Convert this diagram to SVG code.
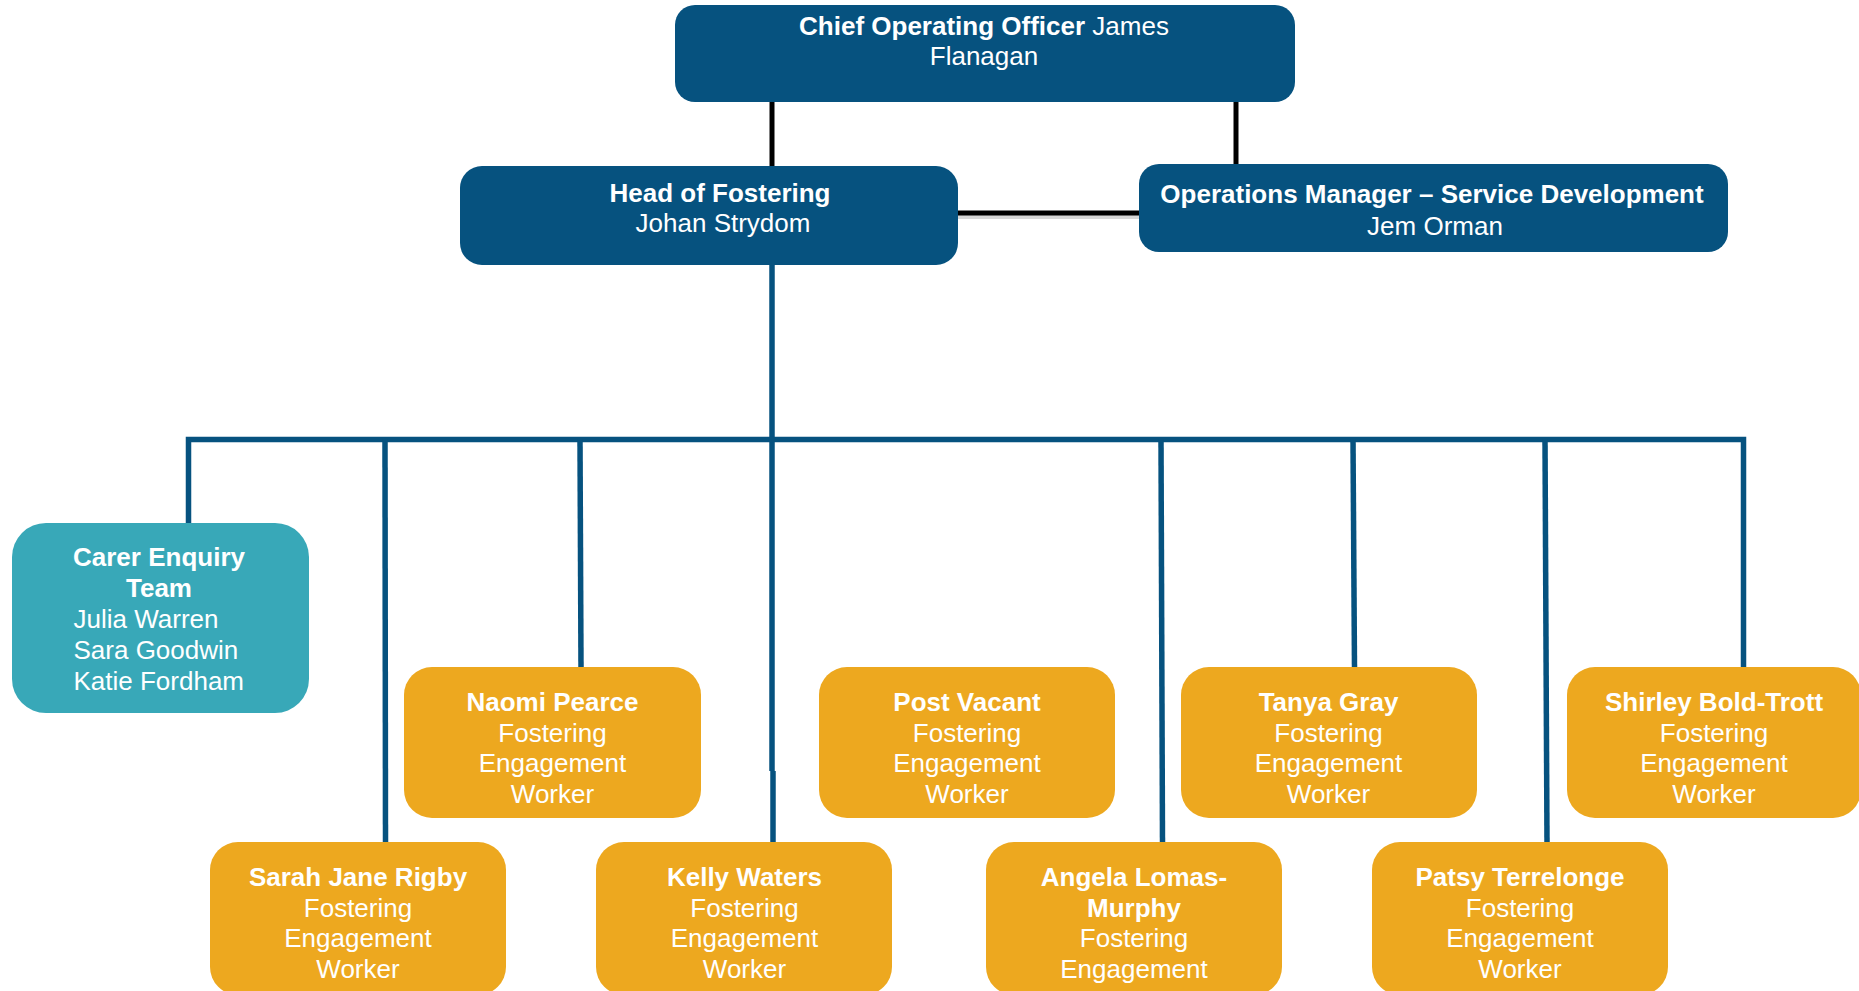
<svg xmlns="http://www.w3.org/2000/svg" width="1859" height="991" viewBox="0 0 1859 991">
<style>
text{font-family:"Liberation Sans",Arial,sans-serif;font-size:26px;fill:#ffffff;text-anchor:middle}
.b{font-weight:bold}
.navy{fill:#06527F}
.teal{fill:#38A8B8}
.orange{fill:#EDA81F}
.blk{stroke:#000000;stroke-width:5;fill:none}
.shadow{stroke:#bdbdbd;stroke-width:4;fill:none;opacity:0.6}
.blue{stroke:#06527F;stroke-width:5.5;fill:none}
</style>
<rect width="1859" height="991" fill="#ffffff"/>
<g id="connectors">
  <line class="shadow" x1="958" y1="217" x2="1139" y2="217"/>
  <line class="blk" x1="772" y1="96" x2="772" y2="168"/>
  <line class="blk" x1="1236" y1="100" x2="1236" y2="166"/>
  <line class="blk" x1="956" y1="213" x2="1141" y2="213"/>
  <line class="blue" x1="772" y1="263" x2="772" y2="771"/>
  <line class="blue" x1="773" y1="771" x2="773" y2="844"/>
  <polyline class="blue" points="188.5,525 188.5,439.5 1743.5,439.5 1743.5,669"/>
  <line class="blue" x1="385" y1="439" x2="385.5" y2="844"/>
  <line class="blue" x1="580" y1="439" x2="581" y2="669"/>
  <line class="blue" x1="1161" y1="439" x2="1162.5" y2="844"/>
  <line class="blue" x1="1353" y1="439" x2="1354.5" y2="669"/>
  <line class="blue" x1="1545" y1="439" x2="1547" y2="844"/>
</g>
<g id="coo">
  <rect class="navy" x="675" y="5" width="620" height="97" rx="20"/>
  <text x="984" y="35"><tspan class="b">Chief Operating Officer</tspan> James</text>
  <text x="984" y="65">Flanagan</text>
</g>
<g id="head-of-fostering">
  <rect class="navy" x="460" y="166" width="498" height="99" rx="22"/>
  <text class="b" x="720" y="202">Head of Fostering</text>
  <text x="723" y="232">Johan Strydom</text>
</g>
<g id="ops-manager">
  <rect class="navy" x="1139" y="164" width="589" height="88" rx="20"/>
  <text class="b" x="1432" y="203">Operations Manager – Service Development</text>
  <text x="1435" y="235">Jem Orman</text>
</g>
<g id="carer-enquiry">
  <rect class="teal" x="12" y="523" width="297" height="190" rx="34"/>
  <text class="b" x="159" y="566">Carer Enquiry</text>
  <text class="b" x="159" y="597">Team</text>
  <text x="73.5" y="628" style="text-anchor:start">Julia Warren</text>
  <text x="73.5" y="659" style="text-anchor:start">Sara Goodwin</text>
  <text x="73.5" y="690" style="text-anchor:start">Katie Fordham</text>
</g>
<g id="naomi">
  <rect class="orange" x="404" y="667" width="297" height="151" rx="28"/>
  <text class="b" x="552.5" y="711">Naomi Pearce</text>
  <text x="552.5" y="741.5">Fostering</text>
  <text x="552.5" y="772">Engagement</text>
  <text x="552.5" y="802.5">Worker</text>
</g>
<g id="post-vacant">
  <rect class="orange" x="819" y="667" width="296" height="151" rx="28"/>
  <text class="b" x="967" y="711">Post Vacant</text>
  <text x="967" y="741.5">Fostering</text>
  <text x="967" y="772">Engagement</text>
  <text x="967" y="802.5">Worker</text>
</g>
<g id="tanya">
  <rect class="orange" x="1181" y="667" width="296" height="151" rx="28"/>
  <text class="b" x="1328.5" y="711">Tanya Gray</text>
  <text x="1328.5" y="741.5">Fostering</text>
  <text x="1328.5" y="772">Engagement</text>
  <text x="1328.5" y="802.5">Worker</text>
</g>
<g id="shirley">
  <rect class="orange" x="1567" y="667" width="294" height="151" rx="28"/>
  <text class="b" x="1714" y="711">Shirley Bold-Trott</text>
  <text x="1714" y="741.5">Fostering</text>
  <text x="1714" y="772">Engagement</text>
  <text x="1714" y="802.5">Worker</text>
</g>
<g id="sarah">
  <rect class="orange" x="210" y="842" width="296" height="153" rx="28"/>
  <text class="b" x="358" y="886">Sarah Jane Rigby</text>
  <text x="358" y="916.5">Fostering</text>
  <text x="358" y="947">Engagement</text>
  <text x="358" y="977.5">Worker</text>
</g>
<g id="kelly">
  <rect class="orange" x="596" y="842" width="296" height="153" rx="28"/>
  <text class="b" x="744.5" y="886">Kelly Waters</text>
  <text x="744.5" y="916.5">Fostering</text>
  <text x="744.5" y="947">Engagement</text>
  <text x="744.5" y="977.5">Worker</text>
</g>
<g id="angela">
  <rect class="orange" x="986" y="842" width="296" height="153" rx="28"/>
  <text class="b" x="1134" y="886">Angela Lomas-</text>
  <text class="b" x="1134" y="916.5">Murphy</text>
  <text x="1134" y="947">Fostering</text>
  <text x="1134" y="977.5">Engagement</text>
</g>
<g id="patsy">
  <rect class="orange" x="1372" y="842" width="296" height="153" rx="28"/>
  <text class="b" x="1520" y="886">Patsy Terrelonge</text>
  <text x="1520" y="916.5">Fostering</text>
  <text x="1520" y="947">Engagement</text>
  <text x="1520" y="977.5">Worker</text>
</g>
</svg>
